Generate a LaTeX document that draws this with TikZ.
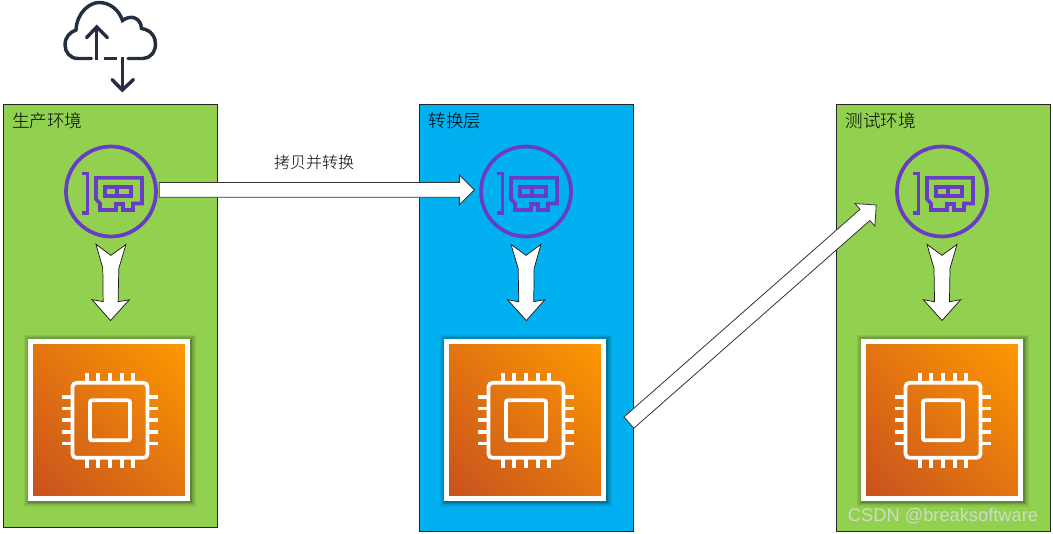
\documentclass[tikz,border=0pt]{standalone}
\usepackage{fontspec}
\setmainfont{Liberation Sans}
\newfontfamily\cjk{Noto Sans CJK SC}[UprightFont=* Light]
\usetikzlibrary{positioning}
\usetikzlibrary{calc}
\definecolor{prodgreen}{HTML}{92D050}
\definecolor{layerblue}{HTML}{00B0F0}
\definecolor{nicpurple}{HTML}{693CC5}
\definecolor{cloudink}{HTML}{232F3E}
\definecolor{chiplight}{HTML}{FF9900}
\definecolor{chipdark}{HTML}{C7511F}
\definecolor{markgray}{HTML}{CFDBC6}
\pgfdeclareverticalshading{chipfade}{100bp}{color(0bp)=(chipdark); color(15bp)=(chipdark); color(85bp)=(chiplight); color(100bp)=(chiplight)}

\begin{document}
\begin{tikzpicture}[x=0.75pt,y=-0.75pt,
	panel/.style={draw=black!85,line width=0.7pt,inner sep=0pt,minimum width=160.5pt},
	paneltext/.style={inner sep=0pt,font=\fontsize{13.2}{15}\selectfont\cjk},
	nic/.style={circle,draw=nicpurple,line width=2.8pt,minimum size=67.5pt,inner sep=0pt},
	chipshadow/.style={fill=black,inner sep=0pt},
	chipbox/.style={draw=white,line width=3.75pt,minimum size=117.75pt,inner sep=0pt,
		shade,shading=chipfade,shading angle=-45},
	fatarrow/.style 2 args={draw=black!80,fill=white,line width=0.6pt,to path={
		let \p1=($(\tikztostart)!#1!(\tikztotarget)$),\p2=($(\tikztotarget)!#2!(\tikztostart)$) in
		($(\p1)!5.6pt!90:(\p2)$) -- ($(\p2)!11.25pt!(\p1)!5.6pt!-90:(\p1)$)
		-- ($(\p2)!11.25pt!(\p1)!11.25pt!-90:(\p1)$) -- (\p2)
		-- ($(\p2)!11.25pt!(\p1)!11.25pt!90:(\p1)$) -- ($(\p2)!11.25pt!(\p1)!5.6pt!90:(\p1)$)
		-- ($(\p1)!5.6pt!-90:(\p2)$) -- cycle}},
	dartarrow/.style 2 args={draw=black!90,fill=white,line width=0.55pt,to path={
		let \p1=($(\tikztostart)!#1!(\tikztotarget)$),\p2=($(\tikztotarget)!#2!(\tikztostart)$) in
		($(\p1)!11.25pt!90:(\p2)$) -- ($(\p1)!8.25pt!(\p2)$) -- ($(\p1)!11.25pt!-90:(\p2)$)
		-- ($(\p1)!18pt!(\p2)!6pt!-90:(\p2)$) -- ($(\p1)!43pt!(\p2)!5.6pt!-90:(\p2)$)
		-- ($(\p1)!41.5pt!(\p2)!14pt!-90:(\p2)$) -- (\p2)
		-- ($(\p1)!41.5pt!(\p2)!14pt!90:(\p2)$) -- ($(\p1)!43pt!(\p2)!5.6pt!90:(\p2)$)
		-- ($(\p1)!18pt!(\p2)!6pt!90:(\p2)$) -- cycle}},
	niccard/.pic={
		\draw[nicpurple,line width=2.7pt,line join=miter] (-29,-18) -- (-23.5,-18) -- (-23.5,21.7) -- (-29,21.7);
		\draw[nicpurple,line width=2.7pt,line join=miter] (-15,-13.7) -- (31,-13.7) -- (31,12) -- (22,12)
			-- (22,18.5) -- (12,18.5) -- (12,12.5) -- (5,12.5) -- (5,18.5) -- (-11,18.5) -- (-11,12) -- (-15,7.5) -- cycle;
		\draw[nicpurple,line width=2.7pt] (-6,-4.7) rectangle (20,4.7) (6,-4.7) -- (6,4.7);
	},
	chipicon/.pic={
		\draw[white,line width=2.8pt,rounded corners=3pt] (-37.5,-37.5) rectangle (37.5,37.5);
		\draw[white,line width=2.8pt,rounded corners=1.5pt] (-20,-20) rectangle (20,20);
		\foreach \pin in {-23.3,-11.7,0,11.7,23.3} {
			\draw[white,line width=2.8pt] (\pin,-38) -- (\pin,-47.7);
			\draw[white,line width=2.8pt] (\pin,38) -- (\pin,47.7);
			\draw[white,line width=2.8pt] (-38,\pin) -- (-47.7,\pin);
			\draw[white,line width=2.8pt] (38,\pin) -- (47.7,\pin);
		}
	},
	cloudicon/.pic={
		\draw[cloudink,line width=2.6pt,line cap=round] (91.5,58.5) -- (78,58.5)
			.. controls (70,58.5) and (65,52) .. (65,45) .. controls (65,37) and (70,32) .. (76,30)
			.. controls (77,12) and (90,2.5) .. (99,2.5) .. controls (110,2.5) and (119,10) .. (122.5,20.5)
			.. controls (131,14) and (141,18) .. (141.5,28.5) .. controls (152,30) and (155.5,38) .. (155.5,44)
			.. controls (155.5,52) and (150,58.5) .. (143,58.5) -- (128,58.5);
		\draw[cloudink,line width=2.6pt] (103.5,58.5) -- (117,58.5);
		\draw[cloudink,line width=2.6pt] (96.7,59.5) -- (96.7,27.5);
		\draw[cloudink,line width=2.6pt,line cap=round] (86.5,37.7) -- (96.7,27) -- (107.5,37.7);
		\draw[cloudink,line width=2.6pt] (122.3,57) -- (122.3,89);
		\draw[cloudink,line width=2.6pt,line cap=round] (112,79.5) -- (122.3,90) -- (133.5,79.5);
	}
	]
	\node[panel,fill=prodgreen,minimum height=317.25pt] (prod) at (110,315.5) {};
	\node[panel,fill=layerblue,minimum height=320.25pt] (layer) at (526.5,317.5) {};
	\node[panel,fill=prodgreen,minimum height=320.25pt] (test) at (943.5,317.5) {};

	\node[paneltext,below right=6.5pt and 7pt of prod.north west] (prodtext) {生产环境};
	\node[paneltext,below right=6.5pt and 7pt of layer.north west] (layertext) {转换层};
	\node[paneltext,below right=6.5pt and 7pt of test.north west] (testtext) {测试环境};

	\node[nic] (nica) at (111,191.5) {};
	\node[nic] (nicb) at (526,191.5) {};
	\node[nic] (nicc) at (942,191.5) {};
	\pic at (nica) {niccard};
	\pic at (nicb) {niccard};
	\pic at (nicc) {niccard};

	% soft shadow under the chip boxes
	\foreach \spread/\tone in {129pt/0.06,127pt/0.08,125pt/0.11,123pt/0.14} {
		\node[chipshadow,opacity=\tone,minimum size=\spread] at (110,420.5) {};
		\node[chipshadow,opacity=\tone,minimum size=\spread] at (526,420.5) {};
		\node[chipshadow,opacity=\tone,minimum size=\spread] at (943,420.5) {};
	}
	\node[chipbox] (chipa) at (109,419.5) {};
	\node[chipbox] (chipb) at (525,419.5) {};
	\node[chipbox] (chipc) at (942,419.5) {};
	\pic at ([xshift=0.75pt,yshift=-0.6pt]chipa) {chipicon};
	\pic at ([xshift=0.75pt,yshift=-0.6pt]chipb) {chipicon};
	\pic at ([xshift=0.75pt,yshift=-0.6pt]chipc) {chipicon};

	\pic at (0,0) {cloudicon};

	\draw[dartarrow={4.5pt}{13.5pt}] (nica.south) to (chipa.89);
	\draw[dartarrow={4.5pt}{13.5pt}] (nicb.south) to (chipb.89);
	\draw[dartarrow={4.5pt}{13.5pt}] (nicc.south) to (chipc.north);

	\node[font=\fontsize{12}{14}\selectfont\cjk,inner sep=0pt] (copytext) at (314,162) {拷贝并转换};
	\draw[fatarrow={1pt}{3.6pt}] (nica.2) to (nicb.178);
	\draw[fatarrow={22.9pt}{19pt}] (chipb.-16) to (nicc.176);

	\node[text=markgray,font=\fontsize{13.7}{16}\selectfont,inner sep=0pt] (csdn) at (943,516) {CSDN @breaksoftware};

	\useasboundingbox (0,0) rectangle (1053,533);
\end{tikzpicture}
\end{document}
